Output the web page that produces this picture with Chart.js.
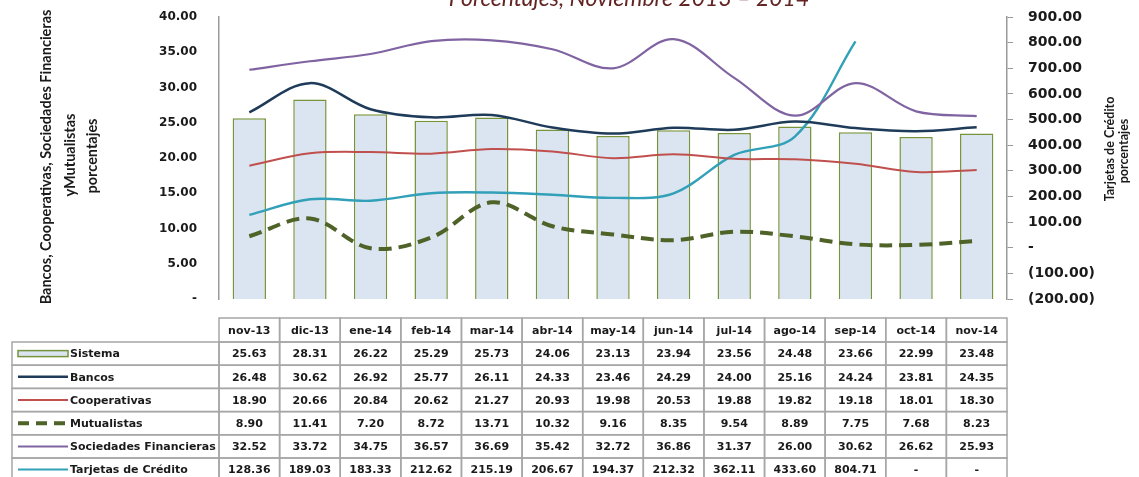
<!DOCTYPE html>
<html>
<head>
<meta charset="utf-8">
<script src="https://cdn.jsdelivr.net/npm/chart.js@4.4.0/dist/chart.umd.min.js"></script>
<style>
  body { margin: 0; background: #fff; }
  canvas { display: block; }
</style>
</head>
<body>
<canvas id="myChart" width="1139" height="477"></canvas>
<script>
var months = ["nov-13", "dic-13", "ene-14", "feb-14", "mar-14", "abr-14", "may-14", "jun-14", "jul-14", "ago-14", "sep-14", "oct-14", "nov-14"];
var sistema = [25.63, 28.31, 26.22, 25.29, 25.73, 24.06, 23.13, 23.94, 23.56, 24.48, 23.66, 22.99, 23.48];
var bancos = [26.48, 30.62, 26.92, 25.77, 26.11, 24.33, 23.46, 24.29, 24.00, 25.16, 24.24, 23.81, 24.35];
var cooperativas = [18.90, 20.66, 20.84, 20.62, 21.27, 20.93, 19.98, 20.53, 19.88, 19.82, 19.18, 18.01, 18.30];
var mutualistas = [8.90, 11.41, 7.20, 8.72, 13.71, 10.32, 9.16, 8.35, 9.54, 8.89, 7.75, 7.68, 8.23];
var sociedades = [32.52, 33.72, 34.75, 36.57, 36.69, 35.42, 32.72, 36.86, 31.37, 26.00, 30.62, 26.62, 25.93];
var tarjetas = [128.36, 189.03, 183.33, 212.62, 215.19, 206.67, 194.37, 212.32, 362.11, 433.60, 804.71, null, null];

var leftTicks = { min: 0, max: 40, step: 5 };
var rightTicks = { min: -200, max: 900, step: 100 };

var tableFont = "bold 11px 'DejaVu Sans'";
var gridGray = "#a6a6a6";

function fmt(v) {
    if (v === null || v === 0) return "-";
    if (v < 0) return "(" + (-v).toFixed(2) + ")";
    return v.toFixed(2);
}

// rows of the data table: label, values, legend sample
var tableRows = [
    { label: "Sistema", data: sistema, kind: "bar" },
    { label: "Bancos", data: bancos, kind: "line", color: "#1f3b5a", width: 2.5 },
    { label: "Cooperativas", data: cooperativas, kind: "line", color: "#c0504d", width: 2 },
    { label: "Mutualistas", data: mutualistas, kind: "dash", color: "#4f6228", width: 4 },
    { label: "Sociedades Financieras", data: sociedades, kind: "line", color: "#8064a2", width: 2 },
    { label: "Tarjetas de Crédito", data: tarjetas, kind: "line", color: "#31a0b8", width: 2 }
];

// draw text rotated -90deg
function vText(ctx, text, cx, cy) {
    ctx.save();
    ctx.translate(cx, cy);
    ctx.rotate(-Math.PI / 2);
    ctx.textAlign = "center";
    ctx.textBaseline = "middle";
    ctx.fillText(text, 0, 0);
    ctx.restore();
}

// keep tick label padding from pushing the plot area down
function fixAxis(width) {
    return function (s) {
        s.width = width;
        s.paddingTop = 0;
        s.paddingBottom = 0;
    };
}

var decorPlugin = {
    id: "decor",
    afterDraw: function (chart) {
        var ctx = chart.ctx;
        var x = chart.scales.x;
        var colW = (x.right - x.left) / months.length;
        var top = 318, headH = 24, rowH = 23.2, legLeft = 12;
        ctx.save();

        // title (cut off at the top)
        ctx.fillStyle = "#632523";
        ctx.font = "italic 23px Lato";
        ctx.textAlign = "center";
        ctx.textBaseline = "alphabetic";
        ctx.fillText("Porcentajes, Noviembre 2013 \u2013 2014", 629, 6);

        // axis titles
        ctx.fillStyle = "#1a1a1a";
        ctx.font = "bold 14.5px Lato";
        vText(ctx, "Bancos, Cooperativas, Sociedades Financieras", 46, 157);
        vText(ctx, "yMutualistas", 70, 155);
        vText(ctx, "porcentajes", 92, 156);
        ctx.font = "bold 12.5px Lato";
        vText(ctx, "Tarjetas de Crédito", 1110, 149);
        vText(ctx, "porcentajes", 1124, 151);

        // data table
        ctx.strokeStyle = gridGray;
        ctx.lineWidth = 1.5;
        ctx.font = tableFont;
        ctx.textAlign = "center";
        ctx.textBaseline = "middle";
        months.forEach(function (m, i) {
            var cx = x.getPixelForValue(i);
            ctx.strokeRect(cx - colW / 2, top, colW, headH);
            ctx.fillStyle = "#1a1a1a";
            ctx.fillText(m, cx, top + headH / 2 + 1);
        });

        tableRows.forEach(function (row, r) {
            var y0 = top + headH + r * rowH;
            var ym = y0 + rowH / 2;
            ctx.strokeStyle = gridGray;
            ctx.lineWidth = 1.5;
            ctx.strokeRect(legLeft, y0, x.left - legLeft, rowH);
            row.data.forEach(function (v, i) {
                var cx = x.getPixelForValue(i);
                ctx.strokeStyle = gridGray;
                ctx.strokeRect(cx - colW / 2, y0, colW, rowH);
                ctx.fillStyle = "#1a1a1a";
                ctx.textAlign = "center";
                ctx.fillText(fmt(v), cx, ym + 1);
            });

            // legend sample
            ctx.save();
            if (row.kind === "bar") {
                ctx.fillStyle = "#dbe5f1";
                ctx.strokeStyle = "#77933c";
                ctx.lineWidth = 1.5;
                ctx.fillRect(18, ym - 3, 50, 6);
                ctx.strokeRect(18, ym - 3, 50, 6);
            } else {
                ctx.strokeStyle = row.color;
                ctx.lineWidth = row.width;
                if (row.kind === "dash") ctx.setLineDash([11, 7]);
                ctx.beginPath();
                ctx.moveTo(18, ym);
                ctx.lineTo(68, ym);
                ctx.stroke();
            }
            ctx.restore();
            ctx.fillStyle = "#1a1a1a";
            ctx.textAlign = "left";
            ctx.fillText(row.label, 70, ym + 1);
        });
        ctx.restore();
    }
};

function drawChart() {
    var ctx = document.getElementById("myChart").getContext("2d");
    return new Chart(ctx, {
        type: "bar",
        data: {
            labels: months,
            datasets: [
                {
                    type: "line", label: "Bancos", data: bancos, yAxisID: "y",
                    borderColor: "#1f3b5a", borderWidth: 2.5, tension: 0.35,
                    pointRadius: 0, fill: false, order: 1
                },
                {
                    type: "line", label: "Cooperativas", data: cooperativas, yAxisID: "y",
                    borderColor: "#c0504d", borderWidth: 2, tension: 0.35,
                    pointRadius: 0, fill: false, order: 1
                },
                {
                    type: "line", label: "Mutualistas", data: mutualistas, yAxisID: "y",
                    borderColor: "#4f6228", borderWidth: 4, borderDash: [13, 7], tension: 0.35,
                    pointRadius: 0, fill: false, order: 1
                },
                {
                    type: "line", label: "Sociedades Financieras", data: sociedades, yAxisID: "y",
                    borderColor: "#8064a2", borderWidth: 2.2, tension: 0.35,
                    pointRadius: 0, fill: false, order: 1
                },
                {
                    type: "line", label: "Tarjetas de Crédito", data: tarjetas, yAxisID: "y1",
                    borderColor: "#31a0b8", borderWidth: 2.4, tension: 0.35,
                    pointRadius: 0, fill: false, order: 1
                },
                {
                    label: "Sistema", data: sistema, yAxisID: "y",
                    backgroundColor: "#dbe5f1", borderColor: "#77933c", borderWidth: 1.5,
                    barPercentage: 0.55, categoryPercentage: 1, order: 10
                }
            ]
        },
        options: {
            responsive: false,
            animation: false,
            layout: { padding: { top: 17, bottom: 178, left: 0, right: 0 } },
            plugins: {
                legend: { display: false },
                tooltip: { enabled: false }
            },
            scales: {
                x: { display: false, offset: true },
                y: {
                    position: "left",
                    min: leftTicks.min, max: leftTicks.max,
                    afterFit: fixAxis(219),
                    grid: { display: false, drawTicks: false },
                    border: { display: true, color: "#9a9a9a", width: 1.5 },
                    ticks: {
                        stepSize: leftTicks.step, padding: 22, color: "#1a1a1a",
                        font: { family: "DejaVu Sans", size: 12, weight: "bold" },
                        callback: function (v) { return fmt(v); }
                    }
                },
                y1: {
                    position: "right",
                    min: rightTicks.min, max: rightTicks.max,
                    afterFit: fixAxis(132),
                    grid: { display: true, drawOnChartArea: false, drawTicks: true, tickLength: 6, color: "#9a9a9a" },
                    border: { display: true, color: "#9a9a9a", width: 1.5 },
                    ticks: {
                        stepSize: rightTicks.step, padding: 15, color: "#1a1a1a",
                        font: { family: "DejaVu Sans", size: 14, weight: "bold" },
                        callback: function (v) { return fmt(v); }
                    }
                }
            }
        },
        plugins: [decorPlugin]
    });
}

var myChart;
Promise.all([
    document.fonts.load("bold 14px Lato"),
    document.fonts.load("italic 23px Lato"),
    document.fonts.load("bold 12px 'DejaVu Sans'")
]).then(function () { myChart = drawChart(); }, function () { myChart = drawChart(); });
</script>
</body>
</html>
